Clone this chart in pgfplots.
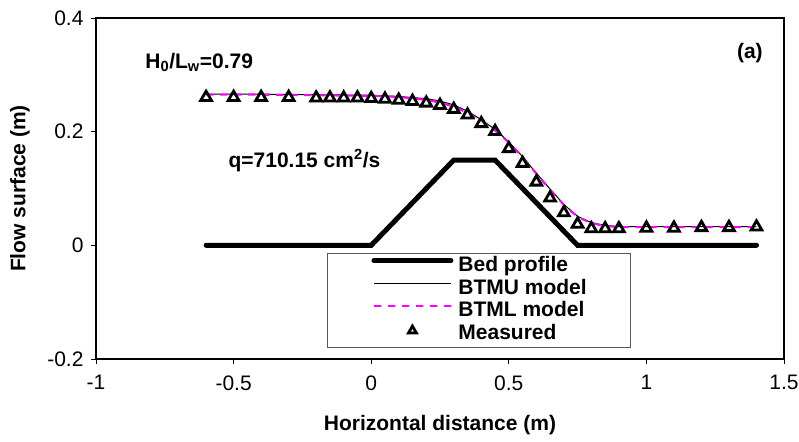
\documentclass[border=0pt]{standalone}
\usepackage{pgfplots}
\pgfplotsset{compat=1.18}
\usepackage{fontspec}
\setmainfont{Liberation Sans}

\definecolor{btml}{RGB}{255,0,255}

\pgfplotsset{
    legline/.style={legend image code/.code={\draw[##1] (0pt,5.5pt) -- (77pt,5.5pt);}},
    legmark/.style={legend image code/.code={\draw[##1, every mark/.append style={scale=0.75}] plot coordinates {(38.5pt,5pt)};}},
}

\begin{document}
\begin{tikzpicture}
\begin{axis}[
    scale only axis,
    width=688pt, height=341pt,
    xmin=-1, xmax=1.5, ymin=-0.2, ymax=0.4,
    xtick={-1,-0.5,0,0.5,1,1.5},
    xticklabels={-1,-0.5,0,0.5,1,1.5},
    ytick={-0.2,0,0.2,0.4},
    yticklabels={-0.2,0,0.2,0.4},
    xtick pos=bottom, ytick pos=left,
    tick align=outside,
    major tick length=5pt,
    tick style={line width=0.9pt, black},
    axis line style={line width=2pt},
    font=\fontsize{21}{25}\selectfont,
    /pgf/number format/assume math mode=true,
    xticklabel style={yshift=-8pt},
    yticklabel style={xshift=-4pt},
    xlabel={\bfseries Horizontal distance (m)},
    ylabel={\bfseries Flow surface (m)},
    every axis x label/.style={at={(axis description cs:0.5,0)}, yshift=-66pt, anchor=center},
    every axis y label/.style={at={(axis description cs:0,0.5)}, xshift=-76pt, rotate=90, anchor=center},
    legend style={at={(0.3358,0.3109)}, anchor=north west,
        draw=black!65, line width=0.8pt,
        inner xsep=44pt, inner ysep=3pt,
        font=\fontsize{21}{23}\selectfont\bfseries,
        row sep=3.2pt,
        nodes={inner sep=0pt, text height=15pt, text depth=4.5pt},
        /tikz/every odd column/.style={column sep=5pt}},
    legend cell align=left,
    clip=false,
]
\coordinate (bbsw) at (rel axis cs:0,0);
\coordinate (bbne) at (rel axis cs:1,1);

% bed profile
\addplot[black, line width=5pt, line cap=round, legline]
  coordinates {(-0.6,0) (0,0) (0.3,0.15) (0.45,0.15) (0.75,0) (1.4,0)};
\addlegendentry{Bed profile}

% BTMU model
\addplot[black, line width=1pt, legline]
  table {
x y
-0.6 0.266
-0.4 0.266
-0.2 0.265
0 0.264
0.1 0.262
0.2 0.258
0.25 0.254
0.3 0.247
0.35 0.236
0.4 0.221
0.45 0.204
0.5 0.182
0.55 0.156
0.6 0.127
0.65 0.099
0.7 0.072
0.75 0.051
0.8 0.040
0.85 0.035
0.9 0.033
1.0 0.033
1.4 0.033
};
\addlegendentry{BTMU model}

% BTML model
\addplot[btml, line width=2pt, dash pattern=on 7pt off 7pt, legline]
  table {
x y
-0.6 0.265
-0.4 0.265
-0.2 0.264
0 0.263
0.1 0.261
0.2 0.256
0.25 0.251
0.3 0.244
0.35 0.233
0.4 0.219
0.45 0.202
0.5 0.181
0.55 0.155
0.6 0.126
0.65 0.098
0.7 0.071
0.75 0.050
0.8 0.039
0.85 0.034
0.9 0.032
1.0 0.032
1.4 0.032
};
\addlegendentry{BTML model}

% measured
\addplot[only marks, mark=triangle, mark size=6.2pt,
    mark options={black, fill=white, line width=2.8pt, yshift=-1.5pt}, legmark]
  table {
x y
-0.6 0.263
-0.5 0.263
-0.4 0.263
-0.3 0.263
-0.2 0.262
-0.15 0.262
-0.1 0.262
-0.05 0.262
0 0.261
0.05 0.260
0.1 0.258
0.15 0.256
0.2 0.253
0.25 0.249
0.3 0.242
0.35 0.232
0.4 0.217
0.45 0.203
0.5 0.173
0.55 0.147
0.6 0.114
0.65 0.086
0.7 0.060
0.75 0.040
0.8 0.032
0.85 0.032
0.9 0.032
1.0 0.033
1.1 0.033
1.2 0.034
1.3 0.034
1.4 0.035
};
\addlegendentry{Measured}

\node[anchor=base west, font=\fontsize{21}{25}\selectfont\bfseries]
  at (axis cs:-0.833,0.311) {H\textsubscript{0}/L\textsubscript{w}=0.79};
\node[anchor=base, font=\fontsize{21}{25}\selectfont\bfseries]
  at (axis cs:1.376,0.329) {(a)};
\node[anchor=base west, font=\fontsize{21}{25}\selectfont\bfseries]
  at (axis cs:-0.531,0.137) {q=710.15 cm\textsuperscript{2}/s};
\end{axis}
\pgfresetboundingbox
\path[use as bounding box] ([shift={(-96pt,-82pt)}]bbsw) rectangle ([shift={(15pt,18pt)}]bbne);
\end{tikzpicture}
\end{document}
